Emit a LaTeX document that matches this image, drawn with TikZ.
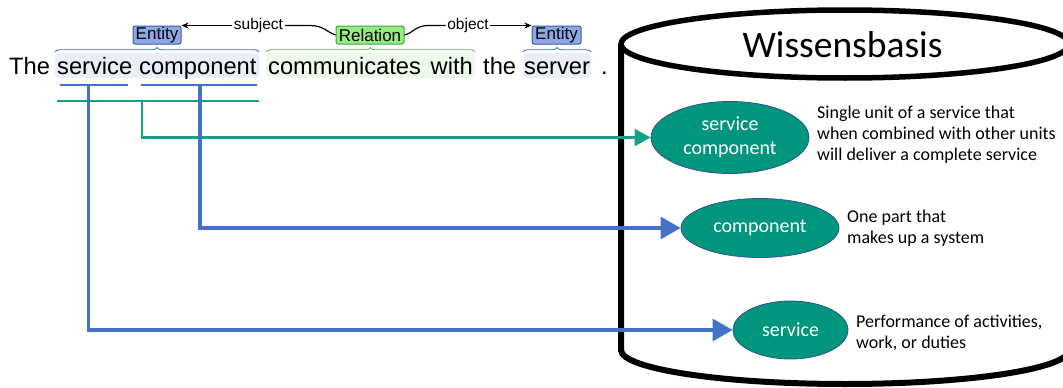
\documentclass[tikz,border=0pt]{standalone}
\usepackage{fontspec}
\setmainfont{Liberation Sans}
\newfontfamily\calfont{Carlito}
\usetikzlibrary{arrows.meta,decorations.pathreplacing,shapes.geometric}
\definecolor{hlblue}{RGB}{234,238,250}
\definecolor{hlgreen}{RGB}{237,250,234}
\definecolor{entfill}{RGB}{142,168,230}
\definecolor{entdraw}{RGB}{60,90,170}
\definecolor{relfill}{RGB}{150,235,130}
\definecolor{reldraw}{RGB}{60,170,60}
\definecolor{braceblue}{RGB}{80,110,180}
\definecolor{bracegreen}{RGB}{100,180,90}
\definecolor{conblue}{RGB}{68,114,196}
\definecolor{congreen}{RGB}{22,160,133}
\definecolor{ellfill}{RGB}{0,150,126}
\definecolor{elldraw}{RGB}{47,82,143}
\tikzset{
  word/.style={anchor=base west, inner sep=0pt, font=\fontsize{23.7}{28}\selectfont},
  entbox/.style={draw=entdraw, fill=entfill, line width=1pt, rounded corners=2pt, minimum width=48pt, minimum height=18pt, inner sep=0pt, font=\fontsize{17}{18}\selectfont},
  relbox/.style={entbox, draw=reldraw, fill=relfill, minimum width=68pt},
  rellabel/.style={inner sep=1.5pt, font=\fontsize{15.5}{17}\selectfont},
  relline/.style={line width=1.2pt, black},
  bracestyle/.style={decorate, decoration={brace, amplitude=4.5pt}, line width=0.9pt},
  kbell/.style={ellipse, draw=elldraw, fill=ellfill, line width=0.8pt, inner sep=0pt, text=white, align=center, font=\calfont\fontsize{20}{24}\selectfont},
  desc/.style={anchor=base west, inner sep=0pt, font=\calfont\fontsize{18}{21}\selectfont},
  bluecon/.style={draw=conblue, line width=3.2pt, -{Triangle[length=20pt,width=22pt]}},
  greencon/.style={draw=congreen, line width=2.4pt, -{Triangle[length=16pt,width=17pt]}},
}
\begin{document}
\begin{tikzpicture}[x=1pt,y=-1pt]
\useasboundingbox (0,0) rectangle (1063,388);
\clip (0,0) rectangle (1063,388);

% highlights
\fill[hlblue, rounded corners=4pt] (55,53) rectangle (259,78);
\fill[hlgreen, rounded corners=4pt] (266,53) rectangle (475,78);
\fill[hlblue, rounded corners=4pt] (523,53) rectangle (591,78);

% sentence
\node[word] (wThe) at (9,74) {The};
\node[word] (wService) at (57,74) {service};
\node[word] (wComponent) at (139,74) {component};
\node[word] (wComm) at (268,74) {communicates};
\node[word, anchor=base east] (wWith) at (473,74) {with};
\node[word] (wThe2) at (483,74) {the};
\node[word] (wServer) at (524,74) {server};
\node[word] (wDot) at (601,74) {.};

% braces
\draw[bracestyle, braceblue] (55,52) -- (259,52);
\draw[bracestyle, bracegreen] (266,52) -- (475,52);
\draw[bracestyle, braceblue] (523,52) -- (591,52);

% labels
\node[entbox] (ent1) at (157,35) {Entity};
\node[relbox] (rel) at (370,35) {Relation};
\node[entbox, minimum width=49pt] (ent2) at (556.5,35) {Entity};
\node[rellabel] (subj) at (258.5,25.5) {subject};
\node[rellabel] (obj) at (468,25.5) {object};

\draw[relline, -{Stealth[length=7pt,width=6pt]}] (subj.west) -- (ent1.north east);
\draw[relline] (subj.east) -- (310,25.5) .. controls (324,25.5) and (328,33) .. (rel.west);
\draw[relline] (rel.east) .. controls (413,33) and (416,25.5) .. (428,25.5) -- (obj.west);
\draw[relline, -{Stealth[length=7pt,width=6pt]}] (obj.east) -- (ent2.north west);

% underlines
\coordinate (us1) at (60,85);
\coordinate (ue1) at (128,85);
\coordinate (us2) at (141,85);
\coordinate (ue2) at (257,85);
\coordinate (gs) at (57,101);
\coordinate (ge) at (259,101);
\draw[conblue, line width=2pt] (us1) -- (ue1);
\draw[conblue, line width=2pt] (us2) -- (ue2);
\draw[congreen, line width=2.2pt] (gs) -- (ge);
\coordinate (cSvc) at (88.5,85);
\coordinate (cComp) at (200,85);
\coordinate (cSC) at (142,101);

% knowledge base cylinder
\draw[line width=5.5pt] (845,44) ellipse [x radius=224, y radius=34];
\draw[line width=6pt, line join=round] (621,44) -- (621,350) arc[start angle=180, end angle=0, x radius=224, y radius=34];
\node[font=\calfont\fontsize{37.5}{40}\selectfont, anchor=base] (kbtitle) at (842.5,57) {Wissensbasis};

% concept ellipses
\node[kbell, minimum width=158pt, minimum height=72pt] (e1) at (730,137.5) {service\\component};
\node[kbell, minimum width=158pt, minimum height=59pt] (e2) at (760,228) {component};
\node[kbell, minimum width=115pt, minimum height=58pt] (e3) at (790.5,330) {service};

\node[desc] (d1) at (817,118) {\begin{tabular}[t]{@{}l@{}}Single unit of a service that\\when combined with other units\\will deliver a complete service\end{tabular}};
\node[desc] (d2) at (847,222.5) {\begin{tabular}[t]{@{}l@{}}One part that\\makes up a system\end{tabular}};
\node[desc] (d3) at (856,327) {\begin{tabular}[t]{@{}l@{}}Performance of activities,\\work, or duties\end{tabular}};

% connectors
\draw[greencon] (cSC) |- (e1.west);
\draw[bluecon] (cComp) |- (e2.west);
\draw[bluecon] (cSvc) |- (e3.west);
\end{tikzpicture}
\end{document}
